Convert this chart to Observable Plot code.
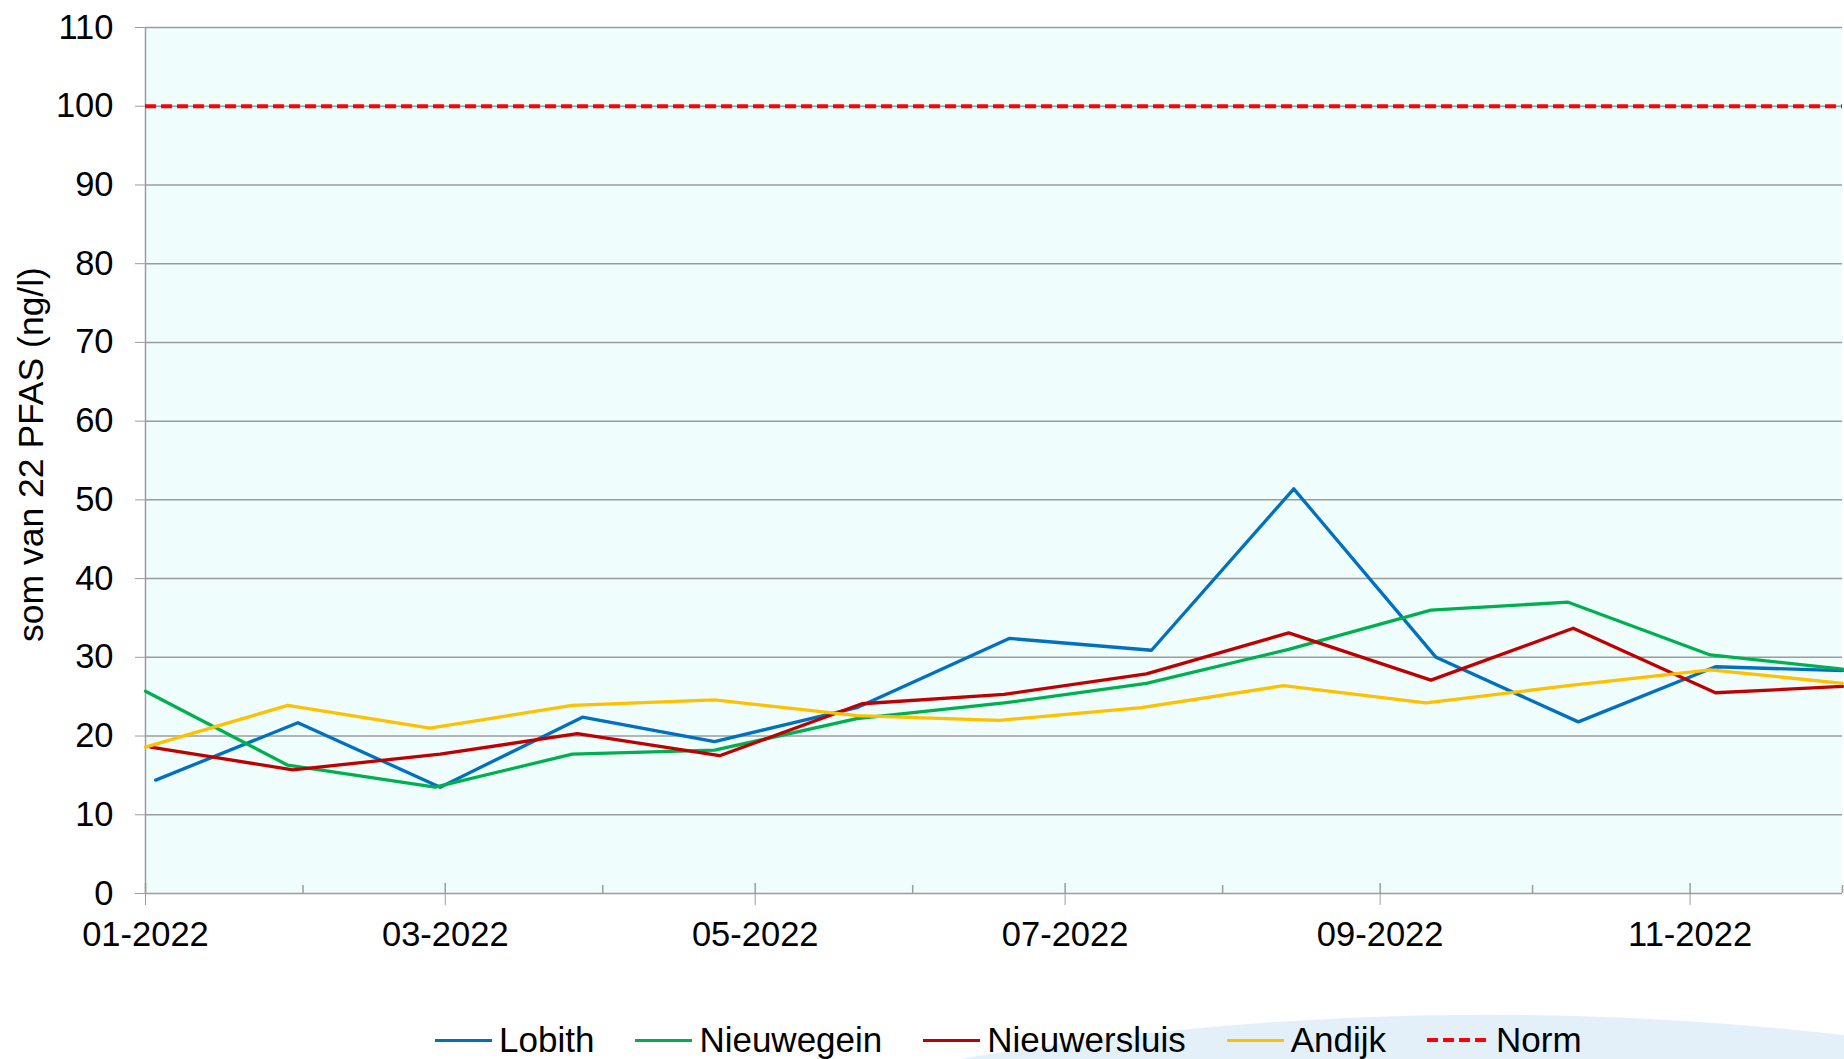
<!DOCTYPE html>
<html><head><meta charset="utf-8">
<script src="https://cdn.jsdelivr.net/npm/d3@7"></script>
<script src="https://cdn.jsdelivr.net/npm/@observablehq/plot@0.6"></script>
<style>
html,body{margin:0;padding:0;background:#fff;}
body{width:1844px;height:1059px;position:relative;overflow:hidden;font-family:"Liberation Sans",Arial,sans-serif;}
#swoosh{position:absolute;left:0;top:0;pointer-events:none;}
#chart{position:absolute;left:0;top:0;}
#legend{position:absolute;left:435px;top:1018px;display:flex;align-items:center;gap:41px;font-size:35px;color:#000;line-height:44px;}
.item{display:flex;align-items:center;}
.swatch{width:57px;height:0;border-top:3px solid;margin-right:7px;}
</style></head><body>
<svg id="swoosh" width="1844" height="1059"><path d="M960,1059 Q1400,985 1844,1035 L1844,1059 Z" fill="#dcecf8" opacity="0.8"/></svg>
<div id="chart"></div>
<div id="legend"></div>
<script>
const seriesNames = ["Lobith", "Nieuwegein", "Nieuwersluis", "Andijk"];
const seriesColors = ["#0070c0", "#00b050", "#c00000", "#ffc000"];
const normLabel = "Norm";
const normValue = 100;
const normColor = "#ff0000";
const yLabel = "som van 22 PFAS (ng/l)";
const yTicks = [0, 10, 20, 30, 40, 50, 60, 70, 80, 90, 100, 110];

const lobithDates = ["2022-01-03","2022-01-31","2022-02-28","2022-03-28","2022-04-23","2022-05-21","2022-06-20","2022-07-18","2022-08-15","2022-09-12","2022-10-10","2022-11-06","2022-12-01"];
const lobithValues = [14.4, 21.7, 13.5, 22.4, 19.3, 23.6, 32.4, 30.9, 51.4, 30.0, 21.8, 28.8, 28.3];

const nieuwegeinDates = ["2022-01-01","2022-01-29","2022-02-27","2022-03-26","2022-04-23","2022-05-21","2022-06-19","2022-07-17","2022-08-14","2022-09-11","2022-10-08","2022-11-05","2022-12-01"];
const nieuwegeinValues = [25.7, 16.3, 13.5, 17.7, 18.2, 22.2, 24.2, 26.7, 31.0, 36.0, 37.0, 30.3, 28.5];

const nieuwersluisDates = ["2022-01-02","2022-01-30","2022-02-28","2022-03-27","2022-04-24","2022-05-22","2022-06-19","2022-07-17","2022-08-14","2022-09-11","2022-10-09","2022-11-06","2022-12-01"];
const nieuwersluisValues = [18.6, 15.7, 17.7, 20.3, 17.5, 24.1, 25.3, 27.9, 33.1, 27.1, 33.7, 25.5, 26.3];

const andijkDates = ["2022-01-01","2022-01-29","2022-02-26","2022-03-26","2022-04-23","2022-05-21","2022-06-18","2022-07-16","2022-08-13","2022-09-10","2022-10-08","2022-11-05","2022-12-01"];
const andijkValues = [18.6, 23.9, 21.0, 23.9, 24.6, 22.6, 22.0, 23.6, 26.4, 24.2, 26.4, 28.4, 26.7];

const xStart = "2022-01-01";
const xEnd = "2022-12-01";

const parse = d3.utcParse("%Y-%m-%d");
const datesList = [lobithDates, nieuwegeinDates, nieuwersluisDates, andijkDates];
const valuesList = [lobithValues, nieuwegeinValues, nieuwersluisValues, andijkValues];
const rows = seriesNames.flatMap((name, i) => datesList[i].map((d, j) => ({series: name, date: parse(d), value: valuesList[i][j]})));

const x0 = parse(xStart), x1 = parse(xEnd);
const months = d3.utcMonths(x0, d3.utcDay.offset(x1, 1));
const major = months.filter(d => d.getUTCMonth() % 2 === 0);
const minor = months.filter(d => d.getUTCMonth() % 2 === 1);
const gridColor = "#9c9c9c";

const chart = Plot.plot({
  width: 1844, height: 985,
  marginTop: 27, marginBottom: 92, marginLeft: 145, marginRight: 2,
  style: {fontFamily: '"Liberation Sans", Arial, sans-serif', fontSize: "34px", color: "#000", background: "transparent", overflow: "visible"},
  x: {type: "utc", domain: [x0, x1]},
  y: {domain: [0, 110]},
  color: {domain: seriesNames, range: seriesColors},
  marks: [
    Plot.frame({fill: "#effdfd", stroke: null}),
    Plot.gridY(yTicks, {stroke: gridColor, strokeOpacity: 1, strokeWidth: 1.5}),
    Plot.ruleX([x0], {stroke: gridColor, strokeWidth: 1.5}),
    Plot.ruleX(major, {x: d => d, y1: 0, y2: 0, insetTop: -10, stroke: gridColor, strokeWidth: 1.5}),
    Plot.ruleX(minor, {x: d => d, y1: 0, y2: 0, insetTop: -8, stroke: gridColor, strokeWidth: 1.5}),
    Plot.axisY({ticks: yTicks, tickSize: 10, tickPadding: 22, stroke: gridColor, strokeOpacity: 1, tickFormat: d => String(d), label: null, fontSize: 34.5}),
    Plot.text([yLabel], {frameAnchor: "left", rotate: -90, dx: -114, dy: -6, fontSize: 35.5, textAnchor: "middle", fill: "#000"}),
    Plot.axisX({ticks: major, tickSize: 12, tickPadding: 16, stroke: gridColor, strokeOpacity: 1, tickFormat: d3.utcFormat("%m-%Y"), label: null, fontSize: 34.5}),
    Plot.ruleY([normValue], {stroke: normColor, strokeWidth: 4, strokeDasharray: "11,5"}),
    Plot.line(rows, {x: "date", y: "value", z: "series", stroke: "series", strokeWidth: 3.3})
  ]
});
document.getElementById("chart").appendChild(chart);

const legend = document.getElementById("legend");
seriesNames.concat([normLabel]).forEach((name, i) => {
  const item = document.createElement("div");
  item.className = "item";
  const sw = document.createElement("span");
  sw.className = "swatch";
  if (i < seriesNames.length) {
    sw.style.borderTopColor = seriesColors[i];
  } else {
    sw.style.borderTop = "none";
    sw.style.height = "4px";
    sw.style.background = `repeating-linear-gradient(90deg, ${normColor} 0 11px, transparent 11px 16px)`;
    sw.style.width = "62px";
  }
  const t = document.createElement("span");
  t.textContent = name;
  item.appendChild(sw); item.appendChild(t);
  legend.appendChild(item);
});
</script>
</body></html>
